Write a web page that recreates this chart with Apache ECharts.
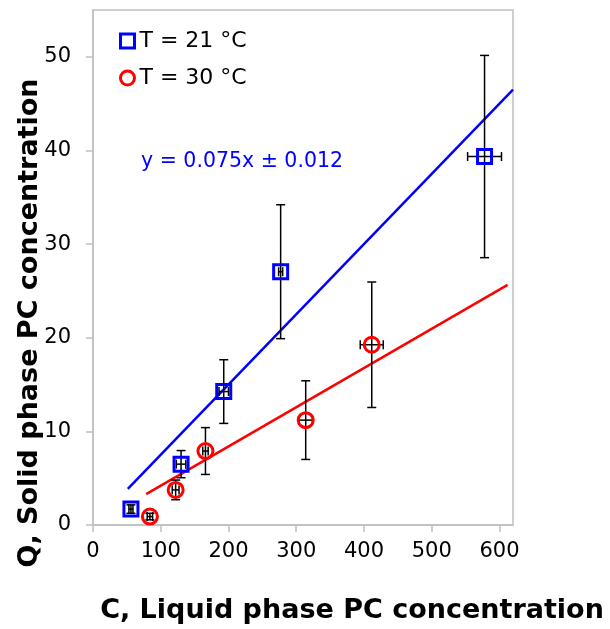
<!DOCTYPE html>
<html>
<head>
<meta charset="utf-8">
<script src="https://cdn.jsdelivr.net/npm/echarts@6/dist/echarts.min.js"></script>
<style>
  html, body { margin: 0; padding: 0; background: #ffffff; }
  #chart { width: 610px; height: 629px; }
</style>
</head>
<body>
<div id="chart"></div>
<script>
// Sorption data: liquid phase concentration C vs solid phase concentration Q
const seriesNames = ['T = 21 °C', 'T = 30 °C'];

// T = 21 °C
const c21 = [56, 130, 193, 277, 578];
const q21 = [1.7, 6.5, 14.25, 27.05, 39.35];
const cErr21 = [3, 7, 7, 3, 25];
const qErr21 = [0.45, 1.45, 3.4, 7.15, 10.8];

// T = 30 °C
const c30 = [84, 122, 166, 314, 411.5];
const q30 = [0.9, 3.75, 7.9, 11.2, 19.25];
const cErr30 = [4, 5, 4, 10, 17];
const qErr30 = [0.35, 1.05, 2.5, 4.2, 6.7];

// Linear fits through the origin: slope and C range covered
const fitSlope21 = 0.075;
const fitRange21 = [51.4, 620];
const fitSlope30 = 0.0419;
const fitRange30 = [78.5, 612];
const equationText = 'y = 0.075x ± 0.012';

// Axis ticks
const xTicks = [0, 100, 200, 300, 400, 500, 600];
const yTicks = [0, 10, 20, 30, 40, 50];

const BLUE = '#0000ff';
const RED = '#ff0000';
const GRAY = '#c0c0c0';
const FONT = 'DejaVu Sans';

const points = (xs, ys) => xs.map((x, i) => [x, ys[i]]);
const errRows = (xs, ys, ex, ey) => xs.map((x, i) => [x, ys[i], ex[i], ey[i]]);
const fitLine = (slope, range) => range.map(x => [x, slope * x]);

function renderErrorBar(params, api) {
  const x = api.value(0), y = api.value(1);
  const ex = api.value(2), ey = api.value(3);
  const top = api.coord([x, y + ey]);
  const bot = api.coord([x, y - ey]);
  const lft = api.coord([x - ex, y]);
  const rgt = api.coord([x + ex, y]);
  const cap = 4.5;
  const style = { stroke: '#000000', lineWidth: 1.5 };
  const seg = (x1, y1, x2, y2) => ({ type: 'line', shape: { x1, y1, x2, y2 }, style });
  return {
    type: 'group',
    children: [
      seg(top[0], top[1], bot[0], bot[1]),
      seg(top[0] - cap, top[1], top[0] + cap, top[1]),
      seg(bot[0] - cap, bot[1], bot[0] + cap, bot[1]),
      seg(lft[0], lft[1], rgt[0], rgt[1]),
      seg(lft[0], lft[1] - cap, lft[0], lft[1] + cap),
      seg(rgt[0], rgt[1] - cap, rgt[0], rgt[1] + cap)
    ]
  };
}

const chart = echarts.init(document.getElementById('chart'), null, { renderer: 'canvas' });

chart.setOption({
  backgroundColor: '#ffffff',
  animation: false,
  textStyle: { fontFamily: FONT },
  grid: {
    left: 93, right: 97, top: 10, bottom: 104,
    show: true, borderColor: GRAY, borderWidth: 1.5, backgroundColor: 'transparent'
  },
  legend: {
    orient: 'vertical',
    left: 114, top: 25,
    itemWidth: 14, itemHeight: 14,
    itemGap: 15,
    textStyle: { fontFamily: FONT, fontSize: 22, color: '#000000' },
    data: [
      { name: seriesNames[0], icon: 'rect',
        itemStyle: { color: 'transparent', borderColor: BLUE, borderWidth: 3 } },
      { name: seriesNames[1], icon: 'circle',
        itemStyle: { color: 'transparent', borderColor: RED, borderWidth: 3 } }
    ]
  },
  xAxis: {
    type: 'value', min: 0, max: 620,
    splitLine: { show: false },
    axisLine: { show: true, lineStyle: { color: GRAY, width: 1.5 } },
    axisTick: { show: true, length: 7, customValues: xTicks, lineStyle: { color: GRAY, width: 1.5 } },
    axisLabel: { customValues: xTicks, fontFamily: FONT, fontSize: 21, color: '#000000', margin: 16 }
  },
  yAxis: {
    type: 'value', min: 0, max: 55,
    splitLine: { show: false },
    axisLine: { show: true, lineStyle: { color: GRAY, width: 1.5 } },
    axisTick: { show: true, length: 7, customValues: yTicks, lineStyle: { color: GRAY, width: 1.5 } },
    axisLabel: { customValues: yTicks, fontFamily: FONT, fontSize: 21, color: '#000000', margin: 22 }
  },
  graphic: [
    {
      type: 'text', left: 141, top: 151,
      style: { text: equationText, fill: BLUE, font: '20.5px "DejaVu Sans"' }
    },
    {
      type: 'text', x: 352, y: 611,
      style: {
        text: 'C, Liquid phase PC concentration', fill: '#000000',
        font: 'bold 27px "DejaVu Sans"', align: 'center', verticalAlign: 'middle'
      }
    },
    {
      type: 'text', x: 30, y: 323, rotation: Math.PI / 2,
      style: {
        text: 'Q, Solid phase PC concentration', fill: '#000000',
        font: 'bold 27px "DejaVu Sans"', align: 'center', verticalAlign: 'middle'
      }
    }
  ],
  series: [
    {
      name: 'fit21', type: 'line', data: fitLine(fitSlope21, fitRange21),
      symbol: 'none', lineStyle: { color: BLUE, width: 2.5 }, z: 1, silent: true
    },
    {
      name: 'fit30', type: 'line', data: fitLine(fitSlope30, fitRange30),
      symbol: 'none', lineStyle: { color: RED, width: 2.5 }, z: 1, silent: true
    },
    {
      name: 'err21', type: 'custom', renderItem: renderErrorBar,
      data: errRows(c21, q21, cErr21, qErr21), z: 2, silent: true
    },
    {
      name: 'err30', type: 'custom', renderItem: renderErrorBar,
      data: errRows(c30, q30, cErr30, qErr30), z: 2, silent: true
    },
    {
      name: seriesNames[0], type: 'scatter', data: points(c21, q21),
      symbol: 'rect', symbolSize: 14, z: 3,
      itemStyle: { color: 'transparent', borderColor: BLUE, borderWidth: 3, opacity: 1 }
    },
    {
      name: seriesNames[1], type: 'scatter', data: points(c30, q30),
      symbol: 'circle', symbolSize: 15, z: 3,
      itemStyle: { color: 'transparent', borderColor: RED, borderWidth: 3, opacity: 1 }
    }
  ]
});
</script>
</body>
</html>
